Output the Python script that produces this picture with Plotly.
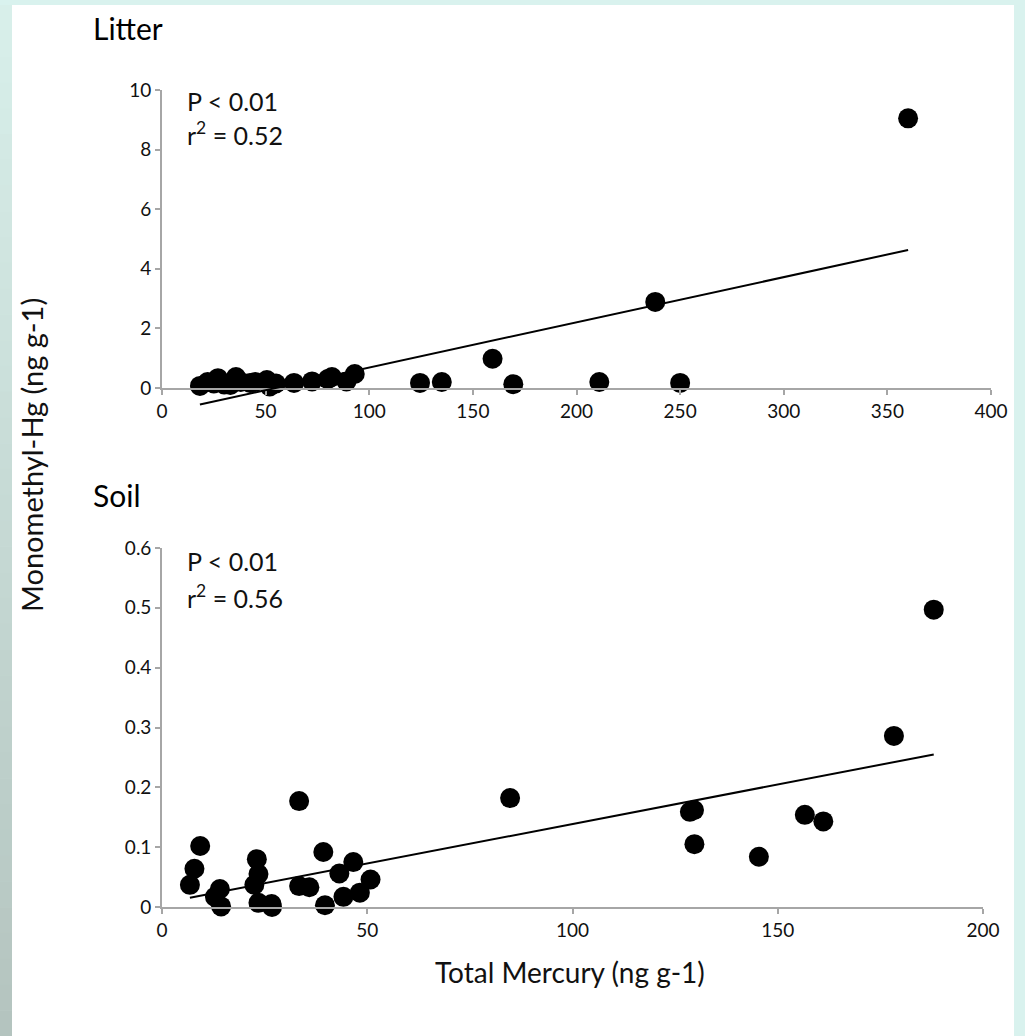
import plotly.graph_objects as go

W, H = 1025, 1036

# ---------------- data ----------------
litter_x = [18.3, 22, 25, 27, 30, 33, 35.7, 38, 42.5, 45, 50.6, 52, 55, 63.7,
            72.4, 80, 82, 89, 93, 124.5, 135, 159.5, 169.5, 211, 238, 250, 360]
litter_y = [0.07, 0.2, 0.15, 0.33, 0.12, 0.1, 0.37, 0.2, 0.17, 0.2, 0.27, 0.05, 0.15, 0.17,
            0.22, 0.3, 0.37, 0.22, 0.47, 0.17, 0.2, 0.98, 0.13, 0.2, 2.89, 0.17, 9.05]
litter_slope, litter_intercept = 0.01517, -0.83

soil_x = [9.3, 7.9, 6.8, 14.1, 14.4, 12.9, 23.1, 23.5, 22.5, 23.5, 26.7, 26.8,
          33.4, 33.4, 35.9, 39.3, 39.7, 43.2, 46.6, 44.2, 48.2, 50.8,
          84.8, 129.6, 128.6, 129.7, 145.4, 156.6, 161.1, 178.3, 188]
soil_y = [0.102, 0.064, 0.037, 0.030, 0.001, 0.017, 0.080, 0.055, 0.037, 0.007, 0.005, 0.0,
          0.177, 0.035, 0.033, 0.092, 0.003, 0.056, 0.075, 0.017, 0.024, 0.046,
          0.182, 0.162, 0.159, 0.105, 0.084, 0.154, 0.143, 0.286, 0.497]
soil_slope, soil_intercept = 0.001321, 0.0066

litter_xticks = [0, 50, 100, 150, 200, 250, 300, 350, 400]
litter_yticks = [0, 2, 4, 6, 8, 10]
soil_xticks = [0, 50, 100, 150, 200]
soil_yticks = [0, 0.1, 0.2, 0.3, 0.4, 0.5, 0.6]
soil_ytext = ["0", "0.1", "0.2", "0.3", "0.4", "0.5", "0.6"]

FONT = "Lato"
AXC = "#a6a6a6"
TXT = "#111111"


def fx(p):
    return p / W


def fy(p):
    return 1 - p / H


# pixel frames of the two plot areas
top_px = dict(x0=162, x1=991, y0=90, y1=388)
bot_px = dict(x0=162, x1=983, y0=548, y1=907)

fig = go.Figure()

fig.add_trace(go.Scatter(x=litter_x, y=litter_y, mode="markers", xaxis="x", yaxis="y",
                         marker=dict(size=20, color="black"), cliponaxis=False,
                         showlegend=False, hoverinfo="skip"))
fig.add_trace(go.Scatter(x=soil_x, y=soil_y, mode="markers", xaxis="x2", yaxis="y2",
                         marker=dict(size=20, color="black"), cliponaxis=False,
                         showlegend=False, hoverinfo="skip"))

lx = [min(litter_x), max(litter_x)]
fig.add_trace(go.Scatter(x=lx, y=[litter_slope * v + litter_intercept for v in lx],
                         mode="lines", xaxis="x3", yaxis="y3",
                         line=dict(color="black", width=2), showlegend=False, hoverinfo="skip"))
sx = [min(soil_x), max(soil_x)]
fig.add_trace(go.Scatter(x=sx, y=[soil_slope * v + soil_intercept for v in sx],
                         mode="lines", xaxis="x2", yaxis="y2",
                         line=dict(color="black", width=2), showlegend=False, hoverinfo="skip"))

tickfont = dict(family=FONT, size=19, color=TXT)


def axis_style(**kw):
    d = dict(showline=True, linecolor=AXC, linewidth=1.6, ticks="outside", ticklen=5,
             tickwidth=1.6, tickcolor=AXC, showgrid=False, zeroline=False,
             tickfont=tickfont, fixedrange=True, automargin=False)
    d.update(kw)
    return d


# invisible frame for the litter trend line: same scale, extra room below zero
ext_px = 430
units_per_px = 10 / (top_px["y1"] - top_px["y0"])
ext_low = -(ext_px - top_px["y1"]) * units_per_px

fig.update_layout(
    width=W, height=H,
    margin=dict(l=0, r=0, t=0, b=0, pad=0, autoexpand=False),
    showlegend=False,
    paper_bgcolor="#d9f2ee",
    plot_bgcolor="rgba(0,0,0,0)",
    xaxis=axis_style(domain=[fx(top_px["x0"]), fx(top_px["x1"])], range=[0, 400],
                     tickvals=litter_xticks, anchor="y"),
    yaxis=axis_style(domain=[fy(top_px["y1"]), fy(top_px["y0"])], range=[0, 10],
                     tickvals=litter_yticks, anchor="x"),
    xaxis2=axis_style(domain=[fx(bot_px["x0"]), fx(bot_px["x1"])], range=[0, 200],
                      tickvals=soil_xticks, anchor="y2"),
    yaxis2=axis_style(domain=[fy(bot_px["y1"]), fy(bot_px["y0"])], range=[0, 0.6],
                      tickvals=soil_yticks, ticktext=soil_ytext, anchor="x2"),
    xaxis3=dict(domain=[fx(top_px["x0"]), fx(top_px["x1"])], range=[0, 400], visible=False,
                anchor="y3", fixedrange=True),
    yaxis3=dict(domain=[fy(ext_px), fy(top_px["y0"])], range=[ext_low, 10], visible=False,
                anchor="x3", fixedrange=True),
)

# background: white panel with coloured bars at the left, top and right
shapes = [dict(type="rect", xref="paper", yref="paper", x0=fx(12), x1=fx(1014), y0=0, y1=fy(5),
               fillcolor="white", line=dict(width=0), layer="below")]
n = 40
c0 = (216, 239, 234)
c1 = (180, 196, 191)
for i in range(n):
    t = i / (n - 1)
    c = tuple(round(c0[k] + (c1[k] - c0[k]) * t) for k in range(3))
    ya = 5 + (H - 5) * i / n
    yb = 5 + (H - 5) * (i + 1) / n
    shapes.append(dict(type="rect", xref="paper", yref="paper", x0=0, x1=fx(12),
                       y0=fy(yb + 0.5), y1=fy(ya), fillcolor="rgb(%d,%d,%d)" % c,
                       line=dict(width=0), layer="below"))
fig.update_layout(shapes=shapes)

ann = []
ann.append(dict(text="Litter", x=fx(91), y=fy(28), xref="paper", yref="paper",
                xanchor="left", yanchor="middle", showarrow=False,
                font=dict(family=FONT, size=30, color="black")))
ann.append(dict(text="Soil", x=fx(91), y=fy(495), xref="paper", yref="paper",
                xanchor="left", yanchor="middle", showarrow=False,
                font=dict(family=FONT, size=30, color="black")))
for txt, yy in [("P &lt; 0.01", 101), ("r<sup>2</sup> = 0.52", 133),
                ("P &lt; 0.01", 561), ("r<sup>2</sup> = 0.56", 596)]:
    ann.append(dict(text=txt, x=fx(185), y=fy(yy), xref="paper", yref="paper",
                    xanchor="left", yanchor="middle", showarrow=False,
                    font=dict(family=FONT, size=25, color=TXT)))
ann.append(dict(text="Monomethyl-Hg (ng g-1)", x=fx(31), y=fy(455), xref="paper", yref="paper",
                xanchor="center", yanchor="middle", showarrow=False, textangle=-90,
                font=dict(family=FONT, size=29, color=TXT)))
ann.append(dict(text="Total Mercury (ng g-1)", x=fx(570), y=fy(972), xref="paper", yref="paper",
                xanchor="center", yanchor="middle", showarrow=False,
                font=dict(family=FONT, size=28, color=TXT)))
fig.update_layout(annotations=ann)

fig.write_html("out.html")
